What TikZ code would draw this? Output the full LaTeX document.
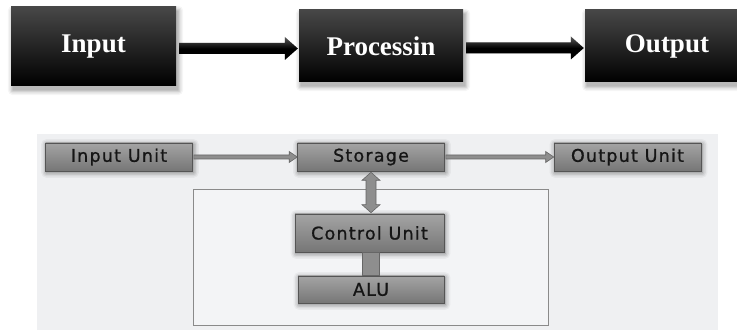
\documentclass[tikz,border=0pt]{standalone}
\usepackage{fontspec}
\setmainfont{Liberation Serif}
\newfontfamily\unitfont{DejaVu Sans}[LetterSpace=7,FakeBold=0.9]
\usetikzlibrary{calc,backgrounds}
\pgfdeclarelayer{shadowlayer}
\pgfsetlayers{background,shadowlayer,main}

\definecolor{panelbg}{HTML}{EFF0F2}
\definecolor{framebg}{HTML}{F3F4F6}
\definecolor{frameline}{HTML}{8A8A8A}
\definecolor{unittop}{HTML}{A4A4A4}
\definecolor{unitbot}{HTML}{767676}
\definecolor{unitline}{HTML}{555555}
\definecolor{unittext}{HTML}{151515}
\definecolor{linkfill}{HTML}{8E8E8E}
\definecolor{linkline}{HTML}{666666}

\tikzset{
  stagebox/.style={minimum width=164pt, minimum height=72pt, inner sep=0pt,
    top color=black!72, middle color=black, bottom color=black,
    text=white, font=\bfseries\fontsize{27}{30}\selectfont},
  unitbox/.style={minimum width=147pt, minimum height=28pt, inner sep=0pt,
    top color=unittop, bottom color=unitbot, draw=unitline, line width=0.6pt,
    text=unittext, font=\unitfont\fontsize{17.5}{20}\selectfont},
  cpuframe/.style={minimum width=355pt, minimum height=136pt, inner sep=0pt,
    draw=frameline, fill=framebg, line width=0.7pt},
  blockarrow/.style={top color=black!65, bottom color=black, middle color=black},
  arrowshade/.style={fill=black, opacity=0.18},
  unitarrow/.style={fill=linkfill, draw=linkline, line width=0.6pt},
}

% soft drop shadow under a named node
\newcommand\softshadow[3]{%
  \foreach \r/\o in {5/0.04,3.5/0.06,2/0.08,0.5/0.12}{%
    \fill[black,opacity=\o,rounded corners=\r pt]
      ($(#1.north west)+(#2-\r,#3-\r)$) rectangle ($(#1.south east)+(#2+\r,#3+\r)$);}}

% thick black block arrow between two stage boxes
\newcommand\stagearrow[3]{%
  \path[#3] let \p1=(#1.east), \p2=(#2.west) in
    (\x1+3pt,\y1+3.5pt) -- (\x2-14pt,\y1+3.5pt) -- (\x2-14pt,\y1+9.5pt) --
    (\x2-1pt,\y1-2pt) -- (\x2-14pt,\y1-13.5pt) -- (\x2-14pt,\y1-7.5pt) --
    (\x1+3pt,\y1-7.5pt) -- cycle;}

% thin grey block arrow between two unit boxes
\newcommand\unitarrow[2]{%
  \path[unitarrow] let \p1=(#1.east), \p2=(#2.west) in
    (\x1+1pt,\y1+2pt) -- (\x2-8pt,\y1+2pt) -- (\x2-8pt,\y1+5.5pt) --
    (\x2,\y1) -- (\x2-8pt,\y1-5.5pt) -- (\x2-8pt,\y1-2pt) --
    (\x1+1pt,\y1-2pt) -- cycle;}

\begin{document}
\begin{tikzpicture}[x=1pt,y=-1pt]
\useasboundingbox (0,0) rectangle (737,336);
\clip (0,0) rectangle (737,336);

% page, grey panel and CPU frame
\begin{pgfonlayer}{background}
  \fill[white] (0,0) rectangle (737,336);
  \fill[panelbg] (37,134) rectangle (718,330);
  \node[cpuframe] (cpu) at (370.5,257) {};
\end{pgfonlayer}

% top row: stages
\node[stagebox, minimum width=165pt, minimum height=79pt] (in) at (93.5,46.5) {Input};
\node[stagebox] (pr) at (381,46) {Processin};
\node[stagebox] (out) at (667,46) {Output};

% bottom: units
\node[unitbox] (inu) at (119,157) {Input Unit};
\node[unitbox] (sto) at (371,157) {Storage};
\node[unitbox] (outu) at (627.5,157) {Output Unit};
\node[unitbox, minimum width=149pt, minimum height=38pt] (ctl) at (369.5,233) {Control Unit};
\node[unitbox, minimum width=146pt, minimum height=27pt] (alu) at (371,289.5) {ALU};

\begin{pgfonlayer}{shadowlayer}
  \softshadow{in}{2}{4}
  \softshadow{pr}{2}{4}
  \softshadow{out}{2}{4}
  \foreach \n in {inu,sto,outu,ctl,alu}{\softshadow{\n}{1}{1.5}}
  \begin{scope}[shift={(1,3)}]
    \stagearrow{in}{pr}{arrowshade}
    \stagearrow{pr}{out}{arrowshade}
  \end{scope}
\end{pgfonlayer}

% top connectors
\stagearrow{in}{pr}{blockarrow}
\stagearrow{pr}{out}{blockarrow}

% bottom connectors
\unitarrow{inu}{sto}
\unitarrow{sto}{outu}
\path[unitarrow] let \p1=(sto.south), \p2=(ctl.north) in
  (\x1,\y1-1pt) -- (\x1+9pt,\y1-9pt) -- (\x1+5pt,\y1-9pt) -- (\x1+5pt,\y2+9pt) --
  (\x1+9pt,\y2+9pt) -- (\x1,\y2+1pt) -- (\x1-9pt,\y2+9pt) -- (\x1-5pt,\y2+9pt) --
  (\x1-5pt,\y1-9pt) -- (\x1-9pt,\y1-9pt) -- cycle;
\path[unitarrow] let \p1=(ctl.south), \p2=(alu.north) in
  (\x1-7.5pt,\y1) rectangle (\x1+9.5pt,\y2);
\end{tikzpicture}
\end{document}
